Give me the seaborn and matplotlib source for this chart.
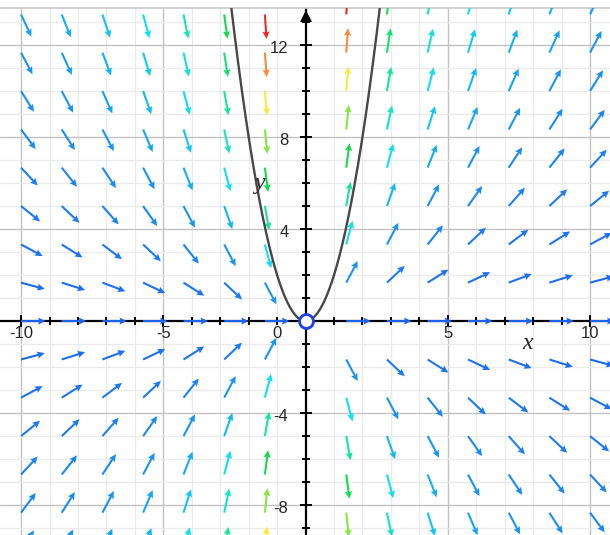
import numpy as np
import pandas as pd
import matplotlib
matplotlib.use("Agg")
import matplotlib.pyplot as plt
from matplotlib.colors import LinearSegmentedColormap, Normalize
import seaborn as sns

# Direction field of dy/dx = 2y/x, arrows anchored at their tails
x_tails = [-10.0, -8.57, -7.14, -5.71, -4.29, -2.86, -1.43,
           1.43, 2.86, 4.29, 5.71, 7.14, 8.57, 10.0]
y_tails = [-10.0, -8.33, -6.67, -5.0, -3.33, -1.67, 0.0, 1.67,
           3.33, 5.0, 6.67, 8.33, 10.0, 11.67, 13.33]
slope_coef = 2.0          # y' = slope_coef * y / x
curve_c = 2.0             # highlighted solution y = curve_c * x^2
origin_point = (0.0, 0.0)

x_tick_labels = ["-10", "-5", "0", "5", "10"]
x_tick_values = [-10, -5, -1, 5, 10]
y_tick_labels = ["12", "8", "4", "-4", "-8"]
y_tick_values = [12, 8, 4, -4, -8]

XMIN, XMAX = -10.74, 10.70
YMIN, YMAX = -9.30, 13.61

sns.set_style("white")
plt.rcParams["font.family"] = ["Liberation Sans", "DejaVu Sans"]

fig = plt.figure(figsize=(6.10, 5.35), dpi=100)
ax = fig.add_axes([0, 0, 1, 527 / 535])
ax.set_xlim(XMIN, XMAX)
ax.set_ylim(YMIN, YMAX)
ax.set_xticks([])
ax.set_yticks([])
for side in ["left", "right", "bottom"]:
    ax.spines[side].set_visible(False)
ax.spines["top"].set_color("#c9c9c9")
ax.spines["top"].set_linewidth(1.2)

# background grid: light every unit, darker at labelled steps
for gx in range(-10, 11):
    if gx == 0:
        continue
    major = gx % 5 == 0
    ax.axvline(gx, color="#c2c2c2" if major else "#ebebeb",
               lw=1.0 if major else 0.9, zorder=0.5)
for gy in range(-9, 14):
    if gy == 0:
        continue
    major = gy % 4 == 0
    ax.axhline(gy, color="#c2c2c2" if major else "#ebebeb",
               lw=1.0 if major else 0.9, zorder=0.5)

# coordinate axes with tick marks
ax.axhline(0, color="black", lw=1.6, zorder=2)
ax.axvline(0, color="black", lw=1.6, zorder=2)
for gx in range(-10, 11):
    if gx == 0:
        continue
    ax.plot(gx, 0, marker="|", ms=8 if gx % 5 == 0 else 5.5, mew=1.4,
            color="black", zorder=2)
for gy in range(-9, 14):
    if gy == 0:
        continue
    ax.plot(0, gy, marker="_", ms=8.5 if gy % 4 == 0 else 5.5, mew=1.4,
            color="black", zorder=2)
ax.plot(0, 13.28, marker="^", ms=9, color="black", mew=0, zorder=2)

# arrows: fixed on-screen length, colour by steepness
fig.canvas.draw()
t = ax.transData
p0 = t.transform((0, 0))
sx = t.transform((1, 0))[0] - p0[0]
sy = t.transform((0, 1))[1] - p0[1]
arrow_px = 24.5

cmap = LinearSegmentedColormap.from_list("steep", [
    (0.0 / 18.7, "#1f64ee"),
    (2.3 / 18.7, "#1996ee"),
    (3.5 / 18.7, "#10bcee"),
    (4.7 / 18.7, "#10e2ee"),
    (7.0 / 18.7, "#14e69a"),
    (9.3 / 18.7, "#12dc4c"),
    (11.7 / 18.7, "#8ae63e"),
    (14.0 / 18.7, "#f6ea3e"),
    (16.3 / 18.7, "#f58e3c"),
    (18.7 / 18.7, "#ec2a2a"),
])
norm = Normalize(0, 18.7)

X, Y = np.meshgrid(np.array(x_tails), np.array(y_tails))
X = X.ravel()
Y = Y.ravel()
M = slope_coef * Y / X
px = np.full_like(M, sx)
py = sy * M
plen = np.hypot(px, py)
U = arrow_px * px / plen / sx
V = arrow_px * py / plen / sy
colors = cmap(norm(np.abs(M)))

ax.quiver(X, Y, U, V, color=colors, angles="xy", scale_units="xy", scale=1,
          pivot="tail", width=0.0034, headwidth=3.4, headlength=3.6,
          headaxislength=3.2, zorder=3)

# solution curve through the field
xs = np.linspace(-2.75, 2.75, 401)
curve = pd.DataFrame({"x": xs, "y": curve_c * xs ** 2})
sns.lineplot(data=curve, x="x", y="y", ax=ax, color="#484848", lw=1.7,
             sort=False, estimator=None, zorder=4)

ax.plot(*origin_point, marker="o", ms=10, mfc="white", mec="#1f3ff0",
        mew=2.0, zorder=5)

# tick labels and axis names
for lab, v in zip(x_tick_labels, x_tick_values):
    ax.text(v, -0.52, lab, ha="center", va="center", fontsize=12, zorder=6)
for lab, v in zip(y_tick_labels, y_tick_values):
    ax.text(-0.6, v - 0.13, lab, ha="right", va="center", fontsize=12,
            zorder=6)
ax.text(7.79, -0.96, "x", ha="center", va="center", fontsize=17,
        style="italic", family=["Liberation Serif", "DejaVu Serif"], zorder=6)
ax.text(-1.6, 6.0, "y", ha="center", va="center", fontsize=17,
        style="italic", family=["Liberation Serif", "DejaVu Serif"], zorder=6)

ax.set_xlabel("")
ax.set_ylabel("")
fig.savefig("out.png", dpi=100)
